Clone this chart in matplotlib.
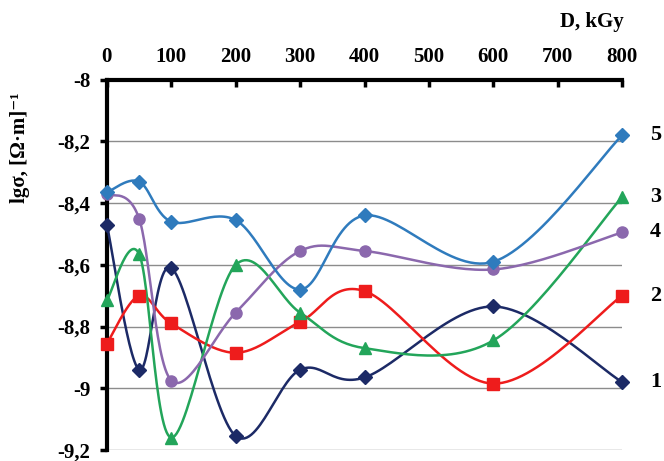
import numpy as np
import matplotlib
matplotlib.use('Agg')
import matplotlib.pyplot as plt

plt.rcParams['font.family'] = ['Liberation Serif', 'DejaVu Serif']
plt.rcParams['font.weight'] = 'bold'

dose = [0, 50, 100, 200, 300, 400, 600, 800]
s1 = [-8.47, -8.94, -8.61, -9.155, -8.94, -8.965, -8.735, -8.98]
s2 = [-8.855, -8.70, -8.79, -8.885, -8.785, -8.685, -8.985, -8.70]
s3 = [-8.715, -8.565, -9.16, -8.60, -8.755, -8.87, -8.845, -8.38]
s4 = [-8.37, -8.45, -8.975, -8.755, -8.555, -8.555, -8.615, -8.495]
s5 = [-8.365, -8.33, -8.46, -8.455, -8.68, -8.44, -8.59, -8.18]
curve_names = ['1', '2', '3', '4', '5']
x_ticks = [0, 100, 200, 300, 400, 500, 600, 700, 800]
y_ticks = [-8, -8.2, -8.4, -8.6, -8.8, -9, -9.2]

series = [s1, s2, s3, s4, s5]
colors = ['#1c2a66', '#ee1c1c', '#23a55a', '#8b68ad', '#2f7bbd']
markers = ['D', 's', '^', 'o', 'D']
msizes = [7, 9, 9, 8, 7]


def smooth(x, y, n=30):
    # Bezier smoothing like Excel's "smoothed line", drawn in scaled space
    xs = np.asarray(x, float) / 800.0
    ys = (np.asarray(y, float) + 8.0) / -1.2 * (370 / 515)
    P = np.column_stack([xs, ys])
    Pe = np.vstack([P[0], P, P[-1]])
    out = []
    t = np.linspace(0, 1, n)[:, None]
    for i in range(len(P) - 1):
        p0, p1, p2, p3 = Pe[i], Pe[i + 1], Pe[i + 2], Pe[i + 3]
        c1 = p1 + (p2 - p0) / 6.0
        c2 = p2 - (p3 - p1) / 6.0
        seg = ((1 - t) ** 3) * p1 + 3 * ((1 - t) ** 2) * t * c1 + 3 * (1 - t) * t ** 2 * c2 + t ** 3 * p2
        out.append(seg if i == 0 else seg[1:])
    out = np.vstack(out)
    return out[:, 0] * 800.0, out[:, 1] / (370 / 515) * -1.2 - 8.0


fig = plt.figure(figsize=(6.64, 4.61), dpi=100)
ax = fig.add_axes([0.161, 0.024, 0.776, 0.803])

for y in y_ticks[1:]:
    ax.axhline(y, color='#8c8c8c', lw=1.0, zorder=1)

for s, c, m, ms in zip(series, colors, markers, msizes):
    sx, sy = smooth(dose, s)
    ax.plot(sx, sy, color=c, lw=1.8, zorder=3, clip_on=False)
    ax.plot(dose, s, ls='none', marker=m, color=c, ms=ms, zorder=4, clip_on=False)

ax.set_xlim(0, 800)
ax.set_ylim(-9.2, -8)
ax.xaxis.tick_top()
ax.set_xticks(x_ticks)
ax.set_xticklabels([str(v) for v in x_ticks], fontsize=15, fontweight='bold')
ax.tick_params(axis='x', direction='in', length=5, width=2.5, pad=9, top=True, bottom=False)
ax.set_yticks(y_ticks)
ax.set_yticklabels([('%g' % v).replace('.', ',') for v in y_ticks], fontsize=15, fontweight='bold')
ax.tick_params(axis='y', direction='out', length=5, width=2.5, pad=7)
ax.spines['right'].set_visible(False)
ax.spines['bottom'].set_visible(False)
ax.spines['left'].set_linewidth(3)
ax.spines['top'].set_linewidth(3)

# curve numbers on the right
for name, s in zip(curve_names, series):
    ax.annotate(name, xy=(800, s[-1]), xytext=(20, 0), textcoords='offset points',
                fontsize=16, fontweight='bold', va='center', ha='left', annotation_clip=False)

fig.text(592 / 664, 1 - 22 / 461, 'D, kGy', fontsize=15, fontweight='bold', ha='center', va='center')
fig.text(20 / 664, 1 - 148 / 461, 'lgσ, [Ω·m]⁻¹', fontsize=15, fontweight='bold',
         rotation=90, ha='center', va='center')

fig.savefig('out.png', dpi=100)
